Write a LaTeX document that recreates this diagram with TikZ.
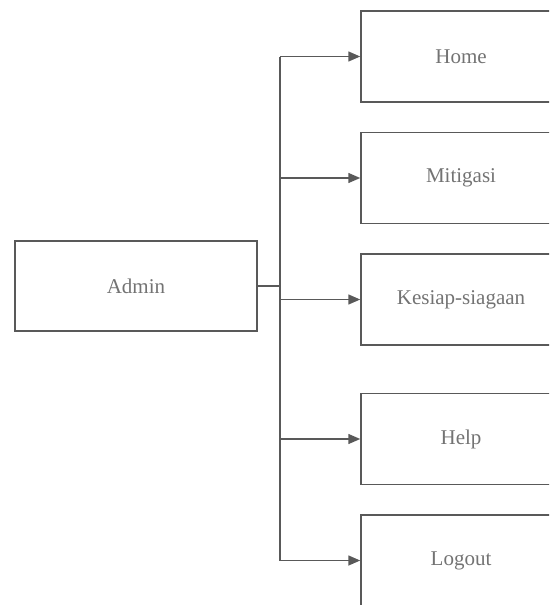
\documentclass[tikz,border=0pt]{standalone}
\usepackage{fontspec}
\setmainfont{Liberation Serif}
\usetikzlibrary{arrows.meta, positioning}

\begin{document}
\begin{tikzpicture}[
    x=1pt, y=-1pt,
    node distance=30pt,
    menu/.style={rectangle, draw=black!65, line width=1.5pt, minimum width=242pt, minimum height=90pt, text=black!55, font=\fontsize{21}{25}\selectfont},
    item/.style={rectangle, draw=black!65, line width=1.5pt, minimum width=200pt, minimum height=91pt, text=black!55, font=\fontsize{21}{25}\selectfont},
    link/.style={line width=1.5pt, color=black!65},
    arrow/.style={-{Triangle[length=12pt, width=10pt]}, line width=1.5pt, color=black!65}
]
    \clip (0,0) rectangle (549,605);

    % Admin box
    \node (admin) [menu] at (136,286) {Admin};

    % Menu items
    \node (home) [item] at (461,56.5) {Home};
    \node (mitigasi) [item, below=29pt of home] {Mitigasi};
    \node (kesiap) [item, below=29pt of mitigasi] {Kesiap-siagaan};
    \node (help) [item, below=47pt of kesiap] {Help};
    \node (logout) [item, below=29pt of help] {Logout};

    % Bus line
    \draw [link] (admin.east) -- ++(22,0) coordinate (joint);
    \draw [link] (joint |- home.west) -- (joint |- logout.west);

    % Arrows to items
    \draw [arrow] (joint |- home.west) -- (home.west);
    \draw [arrow] (joint |- mitigasi.west) -- (mitigasi.west);
    \draw [arrow] (joint |- kesiap.west) -- (kesiap.west);
    \draw [arrow] (joint |- help.west) -- (help.west);
    \draw [arrow] (joint |- logout.west) -- (logout.west);

\end{tikzpicture}
\end{document}
